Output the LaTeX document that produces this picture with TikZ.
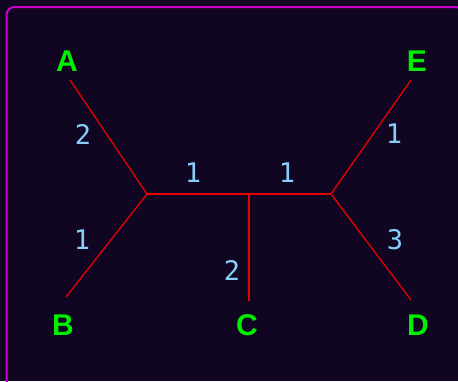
\documentclass[tikz,border=0pt]{standalone}
\usepackage{fontspec}
\usepackage{tikz}
\usetikzlibrary{positioning}
\newfontfamily\leaffont{Liberation Sans}
\newfontfamily\weightfont{DejaVu Sans Mono}
\definecolor{bgdark}{RGB}{16,6,34}
\definecolor{framemag}{RGB}{204,0,204}
\definecolor{leafgreen}{RGB}{0,240,0}
\definecolor{edgered}{RGB}{230,0,0}
\definecolor{weightblue}{RGB}{135,206,250}

\begin{document}
\begin{tikzpicture}[
        x=1pt, y=-1pt,
        leaf/.style={
            text=leafgreen,
            inner sep=0pt,
            font=\leaffont\bfseries\fontsize{30}{30}\selectfont
        },
        weight/.style={
            text=weightblue,
            inner sep=0pt,
            font=\weightfont\fontsize{27}{27}\selectfont
        },
        branch/.style={draw=edgered, line width=1.3pt}
    ]
        \fill[bgdark] (0,0) rectangle (458,381);
        \useasboundingbox (0,0) rectangle (458,381);
        \draw[framemag, line width=2pt, rounded corners=8pt] (6.5,7) rectangle (464,388);

        % inner vertices of the tree
        \coordinate (left) at (147,194);
        \coordinate (mid) at (249,194);
        \coordinate (right) at (331,194);

        % leaves
        \node[leaf] (A) at (67,61) {A};
        \node[leaf] (B) at (63,325) {B};
        \node[leaf] (C) at (247,325) {C};
        \node[leaf] (D) at (418,325) {D};
        \node[leaf] (E) at (417,61) {E};

        \coordinate (Aend) at (70,80);
        \coordinate (Bend) at (66,297);
        \coordinate (Cend) at (249,301);
        \coordinate (Dend) at (411,300);
        \coordinate (Eend) at (411,80);

        \draw[branch] (left) -- (right);
        \foreach \tip/\inner in {Aend/left,Bend/left,Cend/mid,Dend/right,Eend/right} {
            \draw[branch] (\inner) -- (\tip);
        }

        % branch lengths
        \node[weight] (wa) at (83,134) {2};
        \node[weight] (wb) at (82,240) {1};
        \node[weight] (wl) at (193,173) {1};
        \node[weight] (wr) at (287,173) {1};
        \node[weight] (wc) at (232,270) {2};
        \node[weight] (we) at (394,134) {1};
        \node[weight] (wd) at (395,240) {3};
    \end{tikzpicture}
\end{document}
